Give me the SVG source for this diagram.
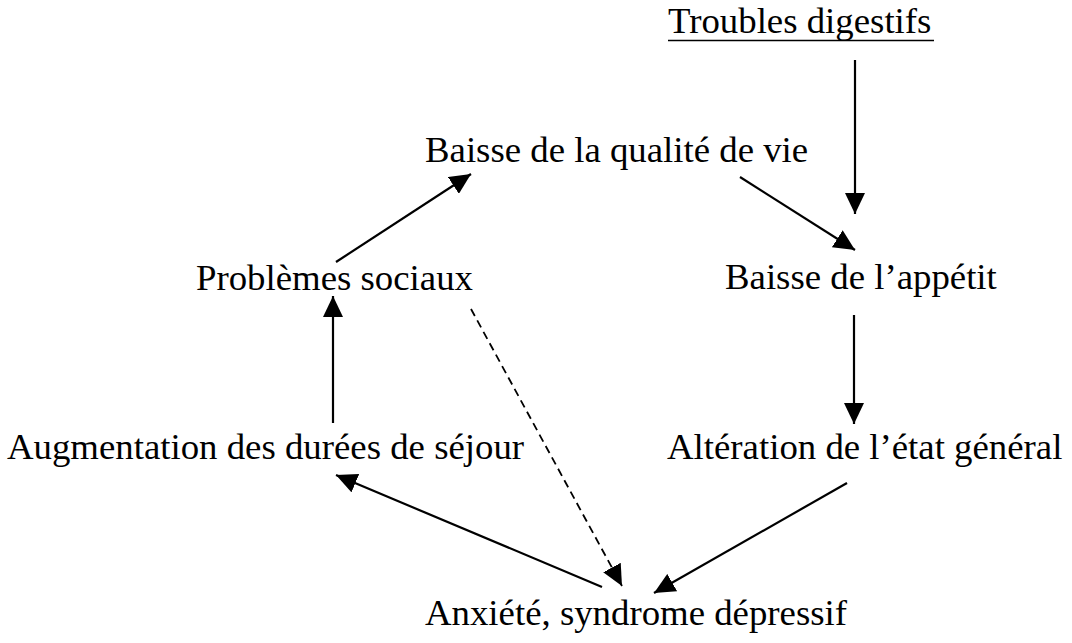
<svg xmlns="http://www.w3.org/2000/svg" width="1072" height="643" viewBox="0 0 1072 643">
<style>
text{font-family:"Liberation Serif","Times New Roman",serif;font-size:36.8px;fill:#000}
.c{stroke:#000;stroke-width:2.2;fill:none;marker-end:url(#ah)}
.d{stroke-width:1.8;stroke-dasharray:8 5}
</style>
<defs>
<marker id="ah" markerUnits="userSpaceOnUse" markerWidth="21" markerHeight="20" refX="21" refY="10" orient="auto" viewBox="0 0 21 20">
<path d="M0,0 L21,10 L0,20 z" fill="#000" stroke="none"/>
</marker>
</defs>
<rect width="1072" height="643" fill="#fff"/>
<g id="troubles"><text x="668" y="33">Troubles digestifs</text><line x1="668" y1="40.5" x2="934" y2="40.5" stroke="#000" stroke-width="1.6"/></g>
<g id="qualite"><text x="425" y="162">Baisse de la qualité de vie</text></g>
<g id="sociaux"><text x="196" y="290">Problèmes sociaux</text></g>
<g id="appetit"><text x="725" y="289">Baisse de l’appétit</text></g>
<g id="sejour"><text x="7" y="459">Augmentation des durées de séjour</text></g>
<g id="etat"><text x="667" y="459">Altération de l’état général</text></g>
<g id="anxiete"><text x="425" y="625">Anxiété, syndrome dépressif</text></g>
<g id="connectors">
<line class="c" x1="855" y1="60" x2="855" y2="214"/>
<line class="c" x1="740" y1="177" x2="855" y2="250"/>
<line class="c" x1="854" y1="315" x2="854" y2="424"/>
<line class="c" x1="847" y1="483" x2="654" y2="593"/>
<line class="c" x1="602" y1="587" x2="336" y2="475"/>
<line class="c" x1="333" y1="423" x2="333" y2="296"/>
<line class="c" x1="336" y1="262" x2="471" y2="174"/>
<line class="c d" x1="471" y1="309" x2="622" y2="586"/>
</g>
</svg>
